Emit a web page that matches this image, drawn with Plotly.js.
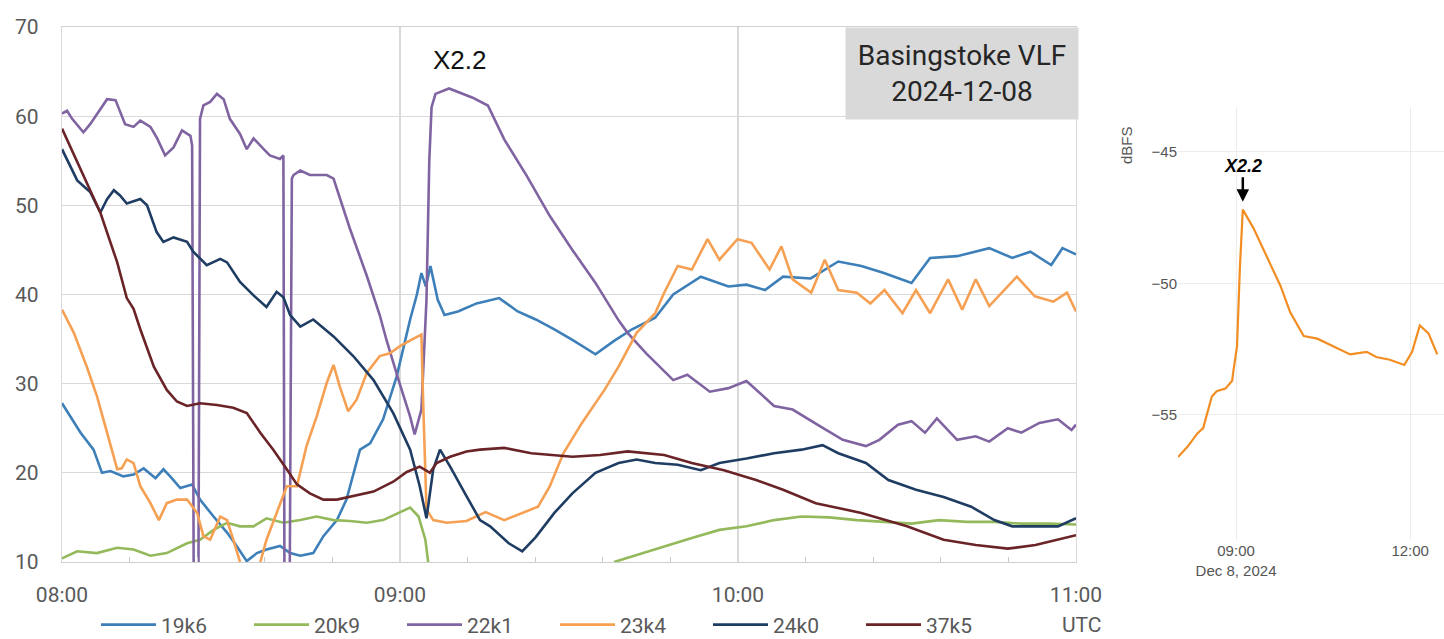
<!DOCTYPE html>
<html>
<head>
<meta charset="utf-8">
<script src="https://cdn.plot.ly/plotly-3.0.1.min.js"></script>
<style>html,body{margin:0;padding:0;background:#fff;}#chart{width:1444px;height:639px;}</style>
</head>
<body>
<div id="chart"></div>
<script>
// ---- Main chart data (minutes after 08:00 UTC, signal level) ----
var t19k6 = [0,3.3,5.6,7.1,8.6,10.9,12.7,14.5,16.6,18.0,19.2,21.0,23.1,24.5,26.9,29.3,31.0,32.8,34.6,36.3,38.7,40.5,42.3,44.6,46.4,48.8,50.5,52.9,54.7,57.0,59.4,61.8,63.0,63.8,64.6,65.4,66.7,67.9,70.3,73.6,77.6,80.9,84.1,87.4,90.6,94.7,98.0,101.2,105.3,108.5,113.4,118.3,121.5,124.8,128.0,132.9,137.8,141.9,145.9,150.8,154.1,158.9,164.6,168.7,171.9,175.6,177.6,180];
var v19k6 = [27.8,24.5,22.6,20.0,20.2,19.6,19.8,20.5,19.4,20.4,19.6,18.3,18.7,17.0,15.1,13.3,11.8,10.1,11.0,11.4,11.8,11.0,10.7,11.0,12.9,14.7,17.0,22.6,23.3,26.0,30.8,37.2,40.0,42.4,40.9,43.2,39.4,37.7,38.1,39.0,39.6,38.1,37.2,36.1,34.9,33.3,34.8,36.1,37.4,40.0,42.0,40.9,41.1,40.5,42.0,41.8,43.7,43.2,42.4,41.3,44.1,44.3,45.2,44.1,44.8,43.3,45.2,44.5];

var t20k9 = [0,2.7,6.2,9.8,12.7,15.7,18.6,22.2,24.5,26.9,29.3,31.6,34.0,36.3,39.3,42.3,45.2,48.2,51.1,54.1,57.0,59.9,61.8,63.3,64.5,65.0,81,98.0,102,106.9,111.8,116.7,121.5,126.4,131.3,136.2,141.1,146,150.8,155.7,160.6,165.5,170.3,175.2,180];
var v20k9 = [10.4,11.2,11.0,11.6,11.4,10.7,11.0,12.1,12.5,13.6,14.4,14.0,14.0,14.9,14.4,14.7,15.1,14.7,14.6,14.4,14.7,15.5,16.1,15.1,12.5,10.0,null,10.0,10.8,11.7,12.7,13.6,14.0,14.7,15.1,15.0,14.7,14.5,14.3,14.7,14.5,14.5,14.3,14.3,14.2];

var t22k1 = [0,0.9,1.8,3.8,5.0,6.8,8.0,9.5,11.2,12.7,13.9,15.7,16.9,18.3,19.8,21.3,22.8,23.1,23.4,24.2,24.5,25.1,26.3,27.5,28.7,29.8,31.6,32.8,34.0,35.8,36.9,38.7,39.3,39.5,40.4,40.8,41.1,42.3,44.0,47.0,48.2,51.1,54.1,56.4,57.6,59.9,61.8,62.6,63.8,64.7,65.2,65.6,66.3,68.7,72.8,75.6,78.5,82.5,86.6,90.6,94.7,98.8,100.4,103.7,108.5,111,115,118.3,121.5,126.4,129.7,134.6,138.6,142.7,145.1,148.4,150.8,153.2,155.3,158.9,162.2,164.6,167.9,170.3,173.5,176.8,179.2,180];
var v22k1 = [60.3,60.6,59.7,58.2,59.1,60.8,61.9,61.8,59.1,58.8,59.5,58.8,57.5,55.6,56.5,58.4,57.8,56.7,5,5,59.7,61.2,61.6,62.5,61.9,59.7,58.0,56.3,57.5,56.3,55.6,55.2,55.6,5,5,53.0,53.4,53.9,53.4,53.4,53.0,47.4,42.1,37.7,34.9,30.1,26.3,24.3,27.1,39.4,55.0,61.0,62.5,63.1,62.1,61.2,57.4,53.3,48.8,45.0,41.3,37.1,35.7,33.4,30.4,31.0,29.1,29.5,30.3,27.5,27.1,25.2,23.7,23.0,23.7,25.4,25.8,24.5,26.1,23.7,24.1,23.5,25.0,24.5,25.6,26.0,24.8,25.4];

var t23k4 = [0,2.1,4.4,6.2,8.0,9.8,10.6,11.5,12.7,13.9,15.7,17.2,18.6,20.4,22.2,24.0,25.1,26.3,28.1,29.3,30.4,31.6,33.4,35.2,36.3,38.1,39.9,41.7,43.4,45.2,47.0,48.2,49.3,50.8,52.3,54.1,56.4,58.2,60.0,62.0,63.8,64.1,64.7,65.9,68.3,71.8,75.2,78.5,81.7,84.5,86.6,89.0,92.3,96.3,98.8,102,105.3,106.9,109.3,111.8,114.6,116.7,119.9,122.4,125.6,127.7,129.7,133.0,135.4,137.8,141.1,143.5,146,149.2,151.6,154.1,157.3,159.8,162.2,164.6,169.5,172.7,176,178.4,180];
var v23k4 = [38.3,35.7,31.9,28.6,24.5,20.4,20.5,21.5,21.1,18.5,16.6,14.7,16.6,17.0,17.0,15.5,12.9,12.5,15.1,14.7,12.5,10.0,null,10.0,12.5,15.5,18.5,18.5,23.0,26.3,30.1,32.1,29.7,26.9,28.2,31.2,33.1,33.4,34.2,34.9,35.5,28.2,15.9,14.7,14.4,14.6,15.6,14.7,15.5,16.2,18.5,22.2,25.6,29.3,31.9,35.7,37.9,40.2,43.2,42.8,46.2,43.9,46.2,45.8,42.8,45.4,41.7,40.2,43.9,40.5,40.2,39.0,40.5,37.9,40.5,37.9,41.7,38.3,41.7,38.7,42.0,39.8,39.2,40.2,38.1];

var t24k0 = [0,2.7,5.0,6.8,8.0,9.2,10.3,11.5,13.9,15.1,16.8,18.0,19.8,22.2,23.3,25.7,28.1,29.3,31.6,34.0,36.3,38.1,39.3,40.5,42.3,44.6,48.2,51.7,55.3,58.8,61.8,63.5,64.7,65.9,67.1,68.9,71.8,74.2,76.0,79.3,81.7,84.1,87.4,90.6,94.7,98.8,102,105.3,109.3,113.4,116.7,121.5,126.4,131.3,135,137.8,142.7,146.7,151.6,156.5,161.4,165.5,168.7,172.8,176.8,180];
var v24k0 = [56.3,52.8,51.5,49.2,50.7,51.7,51.1,50.2,50.7,50.0,47.0,45.9,46.4,45.9,44.8,43.3,44.0,43.6,41.4,39.9,38.6,40.3,39.7,37.7,36.4,37.2,35.3,33.1,30.4,26.7,22.6,18.5,14.9,20.4,22.6,20.7,17.4,14.7,14.0,12.1,11.2,12.8,15.5,17.7,20.0,21.1,21.5,21.1,20.9,20.3,21.1,21.6,22.2,22.6,23.1,22.2,21.1,19.2,18.1,17.3,16.2,14.7,14.0,14.0,14.0,14.9];

var t37k5 = [0,3.3,6.8,9.8,11.5,12.7,13.9,16.3,18.6,20.4,22.2,24.5,27.5,30.4,32.8,35.2,37.5,39.9,41.7,44.0,46.4,48.8,51.7,55.3,58.8,61.2,63.5,65.3,66.5,68.9,71.8,74.2,78.5,83.3,90.6,95.5,100.4,106.9,111.8,117.5,123.2,128.0,133.8,141.9,150.0,156.5,162.2,167.9,172.8,176.8,180];
var v37k5 = [58.6,54.1,49.2,43.6,39.6,38.4,36.1,31.9,29.3,28.0,27.5,27.8,27.6,27.3,26.7,24.5,22.6,20.4,18.7,17.7,17.0,17.0,17.4,17.9,19.0,20.1,20.7,20.0,21.1,21.8,22.4,22.6,22.8,22.2,21.8,22.0,22.4,22.0,21.1,20.3,19.2,18.1,16.6,15.5,14.0,12.5,11.9,11.5,11.9,12.5,13.0];

var seriesNames = ['19k6','20k9','22k1','23k4','24k0','37k5'];
var seriesColors = ['#3d7fb9','#93b95b','#8064a2','#f5a053','#1f3d63','#6a2428'];

// ---- Inset chart data (minutes after 08:00 UTC, dBFS) ----
var tInset = [0,10,20,26,35,40,49,56,57,61,64,67,78,92,106,116,130,144,161,178,195,205,219,234,242,250,259,268];
var vInset = [-56.6,-56.2,-55.7,-55.5,-54.3,-54.1,-54.0,-53.7,-53.4,-52.4,-49.4,-47.2,-47.9,-49.0,-50.1,-51.1,-52.0,-52.1,-52.4,-52.7,-52.6,-52.8,-52.9,-53.1,-52.6,-51.6,-51.9,-52.7];

var xTickLabelsMain = ['08:00','09:00','10:00','11:00'];

function toTime(m){
  var d = new Date(Date.UTC(2024,11,8,8,0,0) + Math.round(m*60000));
  return d.toISOString().replace('T',' ').slice(0,19);
}

var mainT = [t19k6,t20k9,t22k1,t23k4,t24k0,t37k5];
var mainV = [v19k6,v20k9,v22k1,v23k4,v24k0,v37k5];
var FONT = 'Roboto, sans-serif';
var ARIAL = 'Liberation Sans, Arial, sans-serif';
var traces = [];
for (var i=0;i<seriesNames.length;i++){
  traces.push({
    type:'scatter', mode:'lines', name:seriesNames[i],
    x: mainT[i].map(toTime), y: mainV[i],
    line:{color:seriesColors[i], width:2.6},
    xaxis:'x', yaxis:'y', connectgaps:false, hoverinfo:'skip'
  });
}
traces.push({
  type:'scatter', mode:'lines', name:'inset', showlegend:false,
  x: tInset.map(toTime), y: vInset,
  line:{color:'#f28d22', width:2.2},
  xaxis:'x2', yaxis:'y2', hoverinfo:'skip'
});

var W=1444, H=639;
var layout = {
  width:W, height:H,
  margin:{l:0,r:0,t:0,b:0,autoexpand:false},
  paper_bgcolor:'#fff', plot_bgcolor:'rgba(0,0,0,0)',
  showlegend:true,
  font:{family:FONT, color:'#595959'},
  xaxis:{
    domain:[62/W, 1076/W], anchor:'y', type:'date',
    range:[toTime(0), toTime(180)],
    tickvals:[0,60,120,180].map(toTime), ticktext:xTickLabelsMain,
    showgrid:true, gridcolor:'#d9d9d9', gridwidth:1.3,
    showline:true, linecolor:'#cfcfcf', linewidth:1.3, mirror:true,
    zeroline:false, ticks:'', ticklabelstandoff:13, automargin:false,
    tickfont:{size:21, color:'#595959', family:FONT},
    minor:{tickvals:[12,24,36,48,72,84,96,108,132,144,156,168].map(toTime), ticks:'inside', ticklen:5, tickcolor:'#c8c8c8', showgrid:false}
  },
  yaxis:{
    domain:[1-562/H, 1-27/H], anchor:'x',
    range:[10,70], dtick:10, tick0:10,
    showgrid:true, gridcolor:'#d9d9d9', gridwidth:1.3,
    showline:true, linecolor:'#d9d9d9', linewidth:1.3, mirror:true,
    zeroline:false, ticks:'', ticklabelstandoff:18, automargin:false,
    tickfont:{size:21, color:'#595959', family:FONT}
  },
  xaxis2:{
    domain:[1178/W, 1], anchor:'y2', type:'date',
    range:[toTime(0), toTime(275)],
    dtick:3*3600000, tick0:'2024-12-08 00:00:00',
    showgrid:true, gridcolor:'#ececec', gridwidth:1,
    showline:false, zeroline:false, ticks:'', automargin:false,
    tickfont:{size:15, color:'#555', family:ARIAL}
  },
  yaxis2:{
    domain:[1-540/H, 1-107/H], anchor:'x2',
    range:[-59.75,-43.3], dtick:5, tick0:-45,
    showgrid:true, gridcolor:'#ececec', gridwidth:1,
    showline:false, zeroline:false, ticks:'', automargin:false,
    tickfont:{size:15, color:'#555', family:ARIAL}
  },
  legend:{
    orientation:'h', x:96/W, xanchor:'left', y:1-625/H, yanchor:'middle',
    font:{size:21, color:'#595959', family:FONT},
    itemwidth:55, entrywidth:83, entrywidthmode:'pixels',
    bgcolor:'rgba(0,0,0,0)', traceorder:'normal'
  },
  annotations:[
    {text:'X2.2', xref:'x', yref:'y', x:toTime(70.7), y:66.3, showarrow:false,
     font:{size:26, color:'#111', family:ARIAL}},
    {text:'Basingstoke VLF<br>2024-12-08', xref:'paper', yref:'paper',
     x:1079/W, xanchor:'right', y:1-27/H, yanchor:'top',
     width:230, height:89, bgcolor:'#d9d9d9', borderpad:1, align:'center', showarrow:false,
     font:{size:28, color:'#262626', family:FONT}},
    {text:'UTC', xref:'paper', yref:'paper', x:1082/W, y:1-625/H, xanchor:'center', yanchor:'middle',
     showarrow:false, font:{size:21, color:'#595959', family:FONT}},
    {text:'dBFS', xref:'paper', yref:'paper', x:1127/W, y:1-145/H, xanchor:'center', yanchor:'middle',
     textangle:-90, showarrow:false, font:{size:15, color:'#555', family:ARIAL}},
    {text:'<b><i>X2.2</i></b>', xref:'x2', yref:'y2', x:toTime(67), y:-47.2,
     showarrow:true, arrowhead:2, arrowsize:1, arrowwidth:2.5, arrowcolor:'#000',
     ax:0, ay:-44, standoff:8,
     font:{size:18, color:'#000', family:ARIAL}}
  ]
};

Plotly.newPlot('chart', traces, layout, {staticPlot:true, displayModeBar:false});
</script>
</body>
</html>
